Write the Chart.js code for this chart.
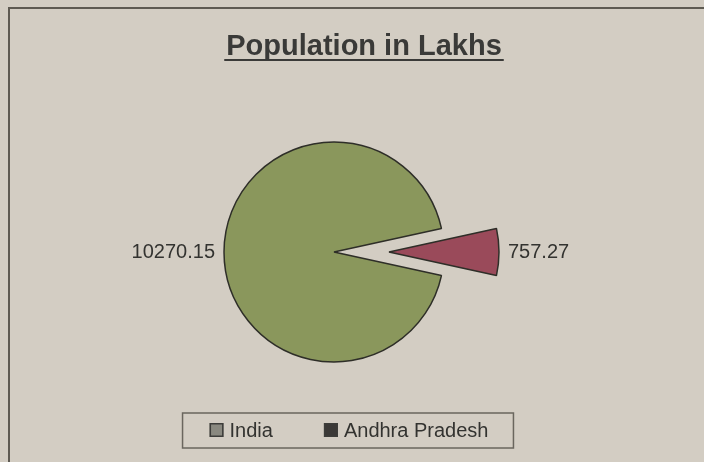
<!DOCTYPE html>
<html>
<head>
<meta charset="utf-8">
<title>Population in Lakhs</title>
<script src="https://cdn.jsdelivr.net/npm/chart.js@4"></script>
<style>
  html, body { margin: 0; padding: 0; background: #d3cdc3; }
  canvas { display: block; }
</style>
</head>
<body>
<canvas id="pie" width="704" height="462"></canvas>
<script>
// data
const categories = ['India', 'Andhra Pradesh'];
const population = [10270.15, 757.27];
const valueLabels = ['10270.15', '757.27'];
const chartTitle = 'Population in Lakhs';

const sliceColors = ['#8a975c', '#9a4a5a'];
const swatchColors = ['#8a8980', '#3b3937'];
const explodePx = [0, 55];

const total = population.reduce((a, b) => a + b, 0);
// put the small slice's middle at 3 o'clock
const startRotation = 90 + 180 * population[1] / total;

const BG = '#d3cdc3';
const INK = '#333330';
const FONT = '"Liberation Sans", Arial, sans-serif';

// background and the scanned frame (runs off the right and bottom edge)
const framePlugin = {
    id: 'frame',
    beforeDraw(chart) {
        const c = chart.ctx;
        c.save();
        c.fillStyle = BG;
        c.fillRect(0, 0, chart.width, chart.height);
        c.strokeStyle = '#5e5a52';
        c.lineWidth = 2;
        c.beginPath();
        c.moveTo(9, chart.height + 5);
        c.lineTo(9, 8);
        c.lineTo(chart.width + 5, 8);
        c.stroke();
        c.restore();
    }
};

// pull a slice out along its middle angle (same radius, same angle)
const explodeSlices = {
    id: 'explodeSlices',
    afterDatasetUpdate(chart, args) {
        args.meta.data.forEach((arc, i) => {
            const d = explodePx[i] || 0;
            if (!d) return;
            const mid = (arc.startAngle + arc.endAngle) / 2;
            arc.x += Math.cos(mid) * d;
            arc.y += Math.sin(mid) * d;
        });
    }
};

// value labels outside each slice
const sliceLabels = {
    id: 'sliceLabels',
    afterDatasetsDraw(chart) {
        const c = chart.ctx;
        const meta = chart.getDatasetMeta(0);
        c.save();
        c.font = '20px ' + FONT;
        c.fillStyle = INK;
        c.textBaseline = 'middle';
        meta.data.forEach((arc, i) => {
            const mid = (arc.startAngle + arc.endAngle) / 2;
            const r = arc.outerRadius + 9;
            const x = arc.x + Math.cos(mid) * r;
            const y = arc.y + Math.sin(mid) * r;
            c.textAlign = Math.cos(mid) < 0 ? 'right' : 'left';
            c.fillText(valueLabels[i], x, y);
        });
        c.restore();
    }
};

// underlined title and boxed legend
const decorations = {
    id: 'decorations',
    afterDraw(chart) {
        const c = chart.ctx;
        c.save();

        c.font = 'bold 29px ' + FONT;
        c.fillStyle = '#3a3a38';
        c.textAlign = 'center';
        c.textBaseline = 'alphabetic';
        const tx = 364, ty = 55;
        c.fillText(chartTitle, tx, ty);
        const tw = c.measureText(chartTitle).width;
        c.fillRect(tx - tw / 2 - 2, ty + 4, tw + 4, 2);

        c.font = '20px ' + FONT;
        c.textAlign = 'left';
        c.textBaseline = 'middle';
        const sw = 14, gapText = 6, gapItem = 51;
        const widths = categories.map(t => c.measureText(t).width);
        let full = gapItem * (categories.length - 1);
        widths.forEach(w => { full += sw + gapText + w; });
        let x = 349 - full / 2;
        const cy = 430;

        c.strokeStyle = '#6a665e';
        c.lineWidth = 1.5;
        c.strokeRect(x - 27, 413, full + 52, 35);

        categories.forEach((t, i) => {
            c.fillStyle = swatchColors[i];
            c.fillRect(x, cy - 7, sw, sw);
            c.strokeStyle = '#3d3d3a';
            c.lineWidth = 1.5;
            c.strokeRect(x + 0.75, cy - 6.25, sw - 1.5, sw - 1.5);
            c.fillStyle = INK;
            c.fillText(t, x + sw + gapText, cy + 1);
            x += sw + gapText + widths[i] + gapItem;
        });
        c.restore();
    }
};

new Chart(document.getElementById('pie'), {
    type: 'pie',
    data: {
        labels: categories,
        datasets: [{
            data: population,
            backgroundColor: sliceColors,
            borderColor: '#2e2e28',
            borderWidth: 1.5
        }]
    },
    options: {
        responsive: false,
        animation: false,
        rotation: startRotation,
        radius: 110,
        layout: { padding: { left: 0, right: 36, top: 42, bottom: 0 } },
        plugins: {
            legend: { display: false },
            title: { display: false },
            tooltip: { enabled: false }
        }
    },
    plugins: [framePlugin, explodeSlices, sliceLabels, decorations]
});
</script>
</body>
</html>
